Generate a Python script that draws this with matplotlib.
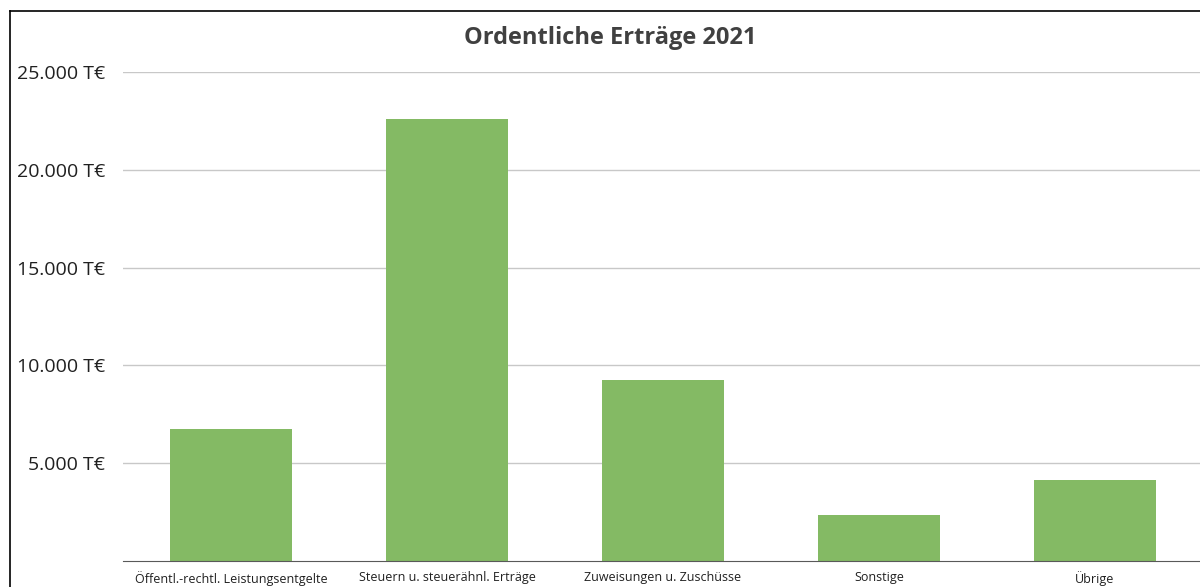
import numpy as np
import matplotlib.pyplot as plt
from matplotlib.lines import Line2D
from matplotlib.ticker import FuncFormatter

categories = ["Öffentl.-rechtl. Leistungsentgelte", "Steuern u. steuerähnl. Erträge",
              "Zuweisungen u. Zuschüsse", "Sonstige", "Übrige"]
values = [6750, 22600, 9250, 2350, 4140]
yticks = [5000, 10000, 15000, 20000, 25000]

plt.rcParams['font.family'] = ['Open Sans', 'DejaVu Sans']

fig = plt.figure(figsize=(12, 5.87), dpi=100)
fig.patch.set_facecolor('white')

# axes: x from 123px to 1203px, y from 561px (0) to 72px (25000)
W, H = 1200, 587
ax = fig.add_axes([123 / W, (H - 561) / H, 1080 / W, (561 - 72) / H])
ax.set_facecolor('none')

x = np.arange(len(categories))
ax.bar(x, values, width=0.565, color='#84ba64', zorder=3)

ax.set_xlim(-0.5, len(categories) - 0.5)
ax.set_ylim(0, 25000)
ax.set_yticks(yticks)
ax.yaxis.set_major_formatter(FuncFormatter(lambda v, p: f"{int(v):,} T€".replace(",", ".")))
ax.set_xticks(x)
ax.set_xticklabels(categories, fontsize=9, color='#202020')
ax.tick_params(axis='y', length=0, pad=13, labelsize=14, labelcolor='#202020')
ax.tick_params(axis='x', length=0, pad=7)

ax.grid(axis='y', color='#c8c8c8', linewidth=1, zorder=0)
for s in ['top', 'right', 'left']:
    ax.spines[s].set_visible(False)
ax.spines['bottom'].set_color('#595959')
ax.spines['bottom'].set_zorder(4)

fig.text(610 / W, 1 - 38 / H, "Ordentliche Erträge 2021", ha='center', va='center',
         fontsize=17, fontweight='bold', color='#404040')

# chart frame (top and left edges visible)
fig.add_artist(Line2D([10 / W, 1.0], [1 - 11 / H, 1 - 11 / H], color='black', lw=1.2,
                      transform=fig.transFigure))
fig.add_artist(Line2D([10 / W, 10 / W], [0, 1 - 11 / H], color='black', lw=1.2,
                      transform=fig.transFigure))

fig.savefig('out.png', dpi=100)
